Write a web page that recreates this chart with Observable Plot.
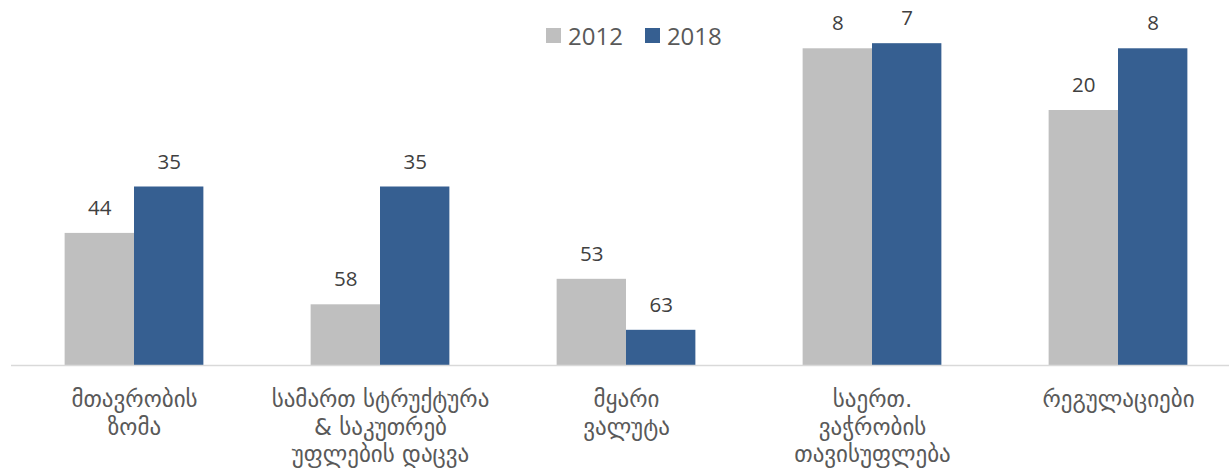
<!DOCTYPE html>
<html>
<head>
<meta charset="utf-8">
<script src="https://cdn.jsdelivr.net/npm/d3@7"></script>
<script src="https://cdn.jsdelivr.net/npm/@observablehq/plot@0.6"></script>
<style>
  html, body { margin: 0; padding: 0; background: #fff; }
  #wrap { position: relative; width: 1229px; height: 476px; overflow: hidden; }
  #legend { position: absolute; top: 19px; left: 546px; display: flex; align-items: center;
            font-family: "Open Sans", "DejaVu Sans", sans-serif; font-size: 24px; color: #595959; }
  #legend .item { display: flex; align-items: center; margin-right: 22px; }
  #legend .sw { width: 15px; height: 15px; margin-right: 7px; }
  svg { display: block; }
</style>
</head>
<body>
<div id="wrap"><div id="legend"></div></div>
<script>
// Categories (with line breaks as in the reference)
const categories = [
  "მთავრობის\nზომა",
  "სამართ სტრუქტურა\n& საკუთრებ\nუფლების დაცვა",
  "მყარი\nვალუტა",
  "საერთ.\nვაჭრობის\nთავისუფლება",
  "რეგულაციები"
];
const years = ["2012", "2018"];
const colors = ["#BFBFBF", "#365F91"];
// Rank labels shown above bars
const rank2012 = [44, 58, 53, 8, 20];
const rank2018 = [35, 35, 63, 7, 8];
// Bar lengths
const bar2012 = [25.9, 11.9, 16.9, 62.1, 50.0];
const bar2018 = [35.0, 35.0, 6.9, 63.1, 62.1];

const data = [];
categories.forEach((c, i) => {
  data.push({cat: c, year: years[0], value: bar2012[i], rank: rank2012[i]});
  data.push({cat: c, year: years[1], value: bar2018[i], rank: rank2018[i]});
});

const legend = document.getElementById("legend");
years.forEach((y, i) => {
  const it = document.createElement("div");
  it.className = "item";
  it.innerHTML = `<span class="sw" style="background:${colors[i]}"></span><span>${y}</span>`;
  legend.appendChild(it);
});

const chart = Plot.plot({
  width: 1229,
  height: 476,
  marginLeft: 10,
  marginRight: -13,
  marginTop: 8,
  marginBottom: 111,
  fx: {domain: categories, padding: 0, axis: null},
  x: {domain: years, paddingInner: 0, paddingOuter: 0.773, round: false, axis: null},
  y: {domain: [0, 70], axis: null},
  color: {domain: years, range: colors},
  style: {fontFamily: "'Open Sans', 'DejaVu Sans', sans-serif", background: "transparent"},
  marks: [
    Plot.barY(data, {fx: "cat", x: "year", y: "value", fill: "year"}),
    Plot.ruleY([0], {stroke: "#D9D9D9", strokeWidth: 1.5}),
    Plot.text(data, {fx: "cat", x: "year", y: "value", text: "rank", dy: -25,
      fontSize: 20.5, fill: "#404040"}),
    Plot.text(categories, {fx: d => d, text: d => d, frameAnchor: "bottom", lineAnchor: "top",
      dy: 22, lineHeight: 1.2, fontSize: 23, fill: "#595959",
      fontFamily: "'DejaVu Sans', sans-serif"})
  ]
});
document.getElementById("wrap").appendChild(chart);
</script>
</body>
</html>
